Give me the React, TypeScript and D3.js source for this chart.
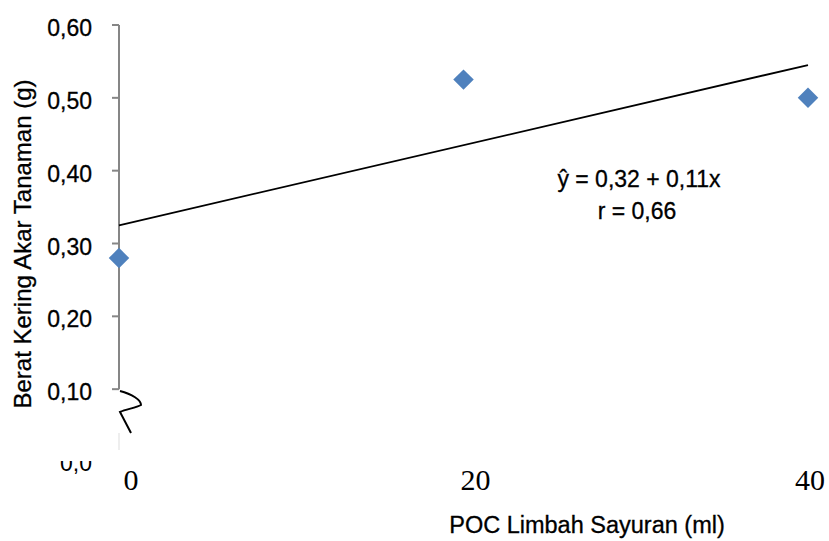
import { useEffect, useRef } from 'react'
import * as d3 from 'd3'

// data
const doses = [0, 20, 40]
const rootWeight = [0.28, 0.525, 0.5]
const yTicks = [0.1, 0.2, 0.3, 0.4, 0.5, 0.6]
const xTicks = [0, 20, 40]
const eqLabel = 'ŷ = 0,32 + 0,11x'
const rLabel = 'r = 0,66'
const xTitle = 'POC Limbah Sayuran (ml)'
const yTitle = 'Berat Kering Akar Tanaman (g)'

const W = 829
const H = 541
const sans = '"Liberation Sans", Arial, sans-serif'

export default function App() {
  const svgRef = useRef<SVGSVGElement>(null)

  useEffect(() => {
    const svg = d3.select(svgRef.current)
    svg.selectAll('*').remove()

    const x = d3.scaleLinear().domain([0, 40]).range([119, 808])
    const y = d3.scaleLinear().domain([0, 0.6]).range([462, 25])

    svg.append('rect').attr('width', W).attr('height', H).attr('fill', '#fff')

    // y axis (broken below 0,10)
    svg.append('line')
      .attr('x1', x(0)).attr('x2', x(0))
      .attr('y1', y(0.6)).attr('y2', y(0.1))
      .attr('stroke', '#868686').attr('stroke-width', 2)

    const ticks = svg.append('g')
    ticks.selectAll('line').data(yTicks).join('line')
      .attr('x1', x(0) - 7).attr('x2', x(0))
      .attr('y1', d => y(d)).attr('y2', d => y(d))
      .attr('stroke', '#868686').attr('stroke-width', 2)
    ticks.selectAll('text').data(yTicks).join('text')
      .attr('x', 92).attr('y', d => y(d) + 11)
      .attr('text-anchor', 'end')
      .attr('font-family', sans).attr('font-size', 23).attr('fill', '#000')
      .attr('stroke', '#000').attr('stroke-width', 0.3)
      .text(d => d3.format('.2f')(d).replace('.', ','))

    // half-hidden zero label
    const defs = svg.append('defs')
    defs.append('clipPath').attr('id', 'zclip')
      .append('rect').attr('x', 0).attr('y', 461).attr('width', 110).attr('height', 30)
    svg.append('text')
      .attr('x', 92).attr('y', y(0) + 9)
      .attr('text-anchor', 'end')
      .attr('clip-path', 'url(#zclip)')
      .attr('font-family', sans).attr('font-size', 23).attr('fill', '#000')
      .text('0,0')

    // faint stub of the axis below the break
    svg.append('line')
      .attr('x1', x(0)).attr('x2', x(0))
      .attr('y1', 433).attr('y2', 450)
      .attr('stroke', '#ddd').attr('stroke-width', 1)

    // hand-drawn break mark
    svg.append('path')
      .attr('d', 'M120,391 C132,394 141,400 141,405 C136,408 126,409 120,412 L131,433')
      .attr('fill', 'none').attr('stroke', '#000').attr('stroke-width', 2)

    // x tick labels
    svg.append('g').selectAll('text').data(xTicks).join('text')
      .attr('x', d => Math.min(x(d) + 12, 810))
      .attr('y', 490)
      .attr('text-anchor', 'middle')
      .attr('font-family', '"Liberation Serif", "Times New Roman", serif')
      .attr('font-size', 30).attr('fill', '#000')
      .text(d => String(d))

    // regression line (x coded as 0,1,2)
    const codes = doses.map((_, i) => i)
    const mx = d3.mean(codes) as number
    const my = d3.mean(rootWeight) as number
    const slope = d3.sum(codes, (c, i) => (c - mx) * (rootWeight[i] - my)) /
      d3.sum(codes, c => (c - mx) ** 2)
    const icpt = my - slope * mx
    const line = d3.line<number>().x(d => x(doses[d])).y(d => y(icpt + slope * d))
    svg.append('path')
      .attr('d', line([0, codes.length - 1]))
      .attr('fill', 'none').attr('stroke', '#000').attr('stroke-width', 1.8)

    // points
    const sym = d3.symbol().type(d3.symbolSquare).size(210)
    svg.append('g').selectAll('path').data(doses).join('path')
      .attr('d', sym())
      .attr('transform', (d, i) => `translate(${x(d)},${y(rootWeight[i])}) rotate(45)`)
      .attr('fill', '#4F81BD')

    // equation
    const label = (t: string, px: number, py: number, size = 23) =>
      svg.append('text')
        .attr('x', px).attr('y', py).attr('text-anchor', 'middle')
        .attr('font-family', sans).attr('font-size', size).attr('fill', '#000')
        .attr('stroke', '#000').attr('stroke-width', 0.3)
        .text(t)
    label(eqLabel, 639, 187)
    label(rLabel, 637, 219)

    // axis titles
    label(xTitle, 587, 533, 23.5)
    label(yTitle, 0, 0, 24).attr('transform', 'translate(31,244) rotate(-90)')
  }, [])

  return (
    <svg
      ref={svgRef}
      width={W}
      height={H}
      style={{ position: 'absolute', left: 0, top: 0, display: 'block' }}
    />
  )
}
